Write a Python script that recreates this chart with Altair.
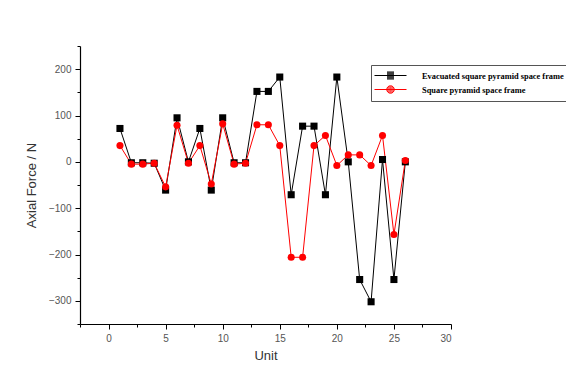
import altair as alt
import pandas as pd

units = list(range(1, 27))
evacuated = [72, -2, -2, -3, -61, 95, 0, 72, -61, 95, -2, -2, 152, 152, 183, -71, 77, 77, -71, 183, 0, -254, -302, 5, -254, 0]
square = [35, -5, -5, -3, -54, 79, -3, 35, -48, 82, -5, -3, 80, 80, 35, -206, -206, 35, 57, -8, 15, 15, -8, 57, -157, 3]
series_names = ["Evacuated square pyramid space frame", "Square pyramid space frame"]
x_ticks = [-2.5, 0, 2.5, 5, 7.5, 10, 12.5, 15, 17.5, 20, 22.5, 25, 27.5, 30]
y_ticks = [-350, -300, -250, -200, -150, -100, -50, 0, 50, 100, 150, 200, 250]

df = pd.DataFrame({
    "Unit": units * 2,
    "Force": evacuated + square,
    "Series": [series_names[0]] * len(units) + [series_names[1]] * len(units),
})

# legend glyphs: a line with a marker in the middle (stroke-only paths, marker filled by hatching)
sq = "".join(f"M-0.7,{y / 10:.2f}H0.7" for y in range(-7, 8, 2))
legend_square = "M-3.2,0H3.2" + sq
def circ(r):
    return f"M{-r},0A{r},{r} 0 1,0 {r},0A{r},{r} 0 1,0 {-r},0"
legend_circle = "M-3.2,0H3.2" + "".join(circ(r) for r in [0.75, 0.55, 0.35, 0.15])

xs = alt.Scale(domain=[-2.5, 30], nice=False, zero=False)
ys = alt.Scale(domain=[-350, 250], nice=False, zero=False)
cscale = alt.Scale(domain=series_names, range=["#000000", "#ff0000"])
legend = alt.Legend(title=None, orient="none", legendX=291, legendY=19,
                    strokeColor="#555555", padding=5, rowPadding=2,
                    labelFont="Liberation Serif", labelFontWeight="bold",
                    labelFontSize=8.4, labelColor="#000000", symbolSize=100,
                    labelOffset=26, symbolOffset=9,
                    fillColor="#ffffff", symbolStrokeWidth=1)

xaxis = alt.Axis(values=x_ticks, title="Unit", grid=False,
                 labelExpr="datum.value % 5 === 0 ? datum.label : ''",
                 tickSize={"condition": {"test": "datum.value % 5 === 0", "value": 5}, "value": 3})
yaxis = alt.Axis(values=y_ticks, title="Axial Force / N", grid=False,
                 labelExpr="datum.value % 100 === 0 ? datum.label : ''",
                 tickSize={"condition": {"test": "datum.value % 100 === 0", "value": 5}, "value": 3})

base = alt.Chart(df)

lines = base.mark_line(strokeWidth=1).encode(
    x=alt.X("Unit:Q", scale=xs, axis=xaxis),
    y=alt.Y("Force:Q", scale=ys, axis=yaxis),
    color=alt.Color("Series:N", scale=cscale, legend=None),
    detail="Series:N",
)

points = base.mark_point(filled=True, opacity=1, size=50).encode(
    x=alt.X("Unit:Q", scale=xs, axis=xaxis),
    y=alt.Y("Force:Q", scale=ys, axis=yaxis),
    color=alt.Color("Series:N", scale=cscale, legend=None),
    shape=alt.Shape("Series:N", scale=alt.Scale(domain=series_names, range=["square", "circle"]), legend=None),
)

legend_layer = base.transform_filter("false").mark_point(filled=False, opacity=1).encode(
    x=alt.X("Unit:Q", scale=xs, axis=xaxis),
    y=alt.Y("Force:Q", scale=ys, axis=yaxis),
    color=alt.Color("Series:N", scale=cscale, legend=legend),
    shape=alt.Shape("Series:N", scale=alt.Scale(domain=series_names, range=[legend_square, legend_circle]), legend=legend),
)

chart = alt.layer(lines, points, legend_layer).resolve_scale(shape="independent", color="independent").properties(
    width=371, height=278,
    autosize=alt.AutoSizeParams(type="none"),
    padding={"left": 72, "top": 38, "right": 115, "bottom": 60},
).configure_view(stroke=None).configure_axis(
    domainColor="#000000", tickColor="#000000", domainWidth=1.2,
    labelFont="Liberation Sans", labelFontSize=10, labelColor="#555555",
    titleFont="Liberation Sans", titleFontSize=13, titleFontWeight="normal", titleColor="#333333",
).configure_axisX(titlePadding=6, labelPadding=4).configure_axisY(titlePadding=10, labelPadding=4)

chart.save("out.html", embed_options={"renderer": "svg", "actions": False})
